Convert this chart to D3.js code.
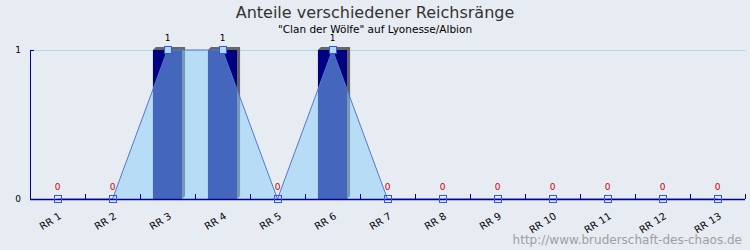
<!DOCTYPE html>
<html>
<head>
<meta charset="utf-8">
<script src="https://cdn.jsdelivr.net/npm/d3@7"></script>
<style>
  body { margin: 0; background: #e6ecf2; }
  svg { display: block; font-family: "DejaVu Sans", sans-serif; }
</style>
</head>
<body>
<div id="chart"></div>
<script>
const categories = ["RR 1", "RR 2", "RR 3", "RR 4", "RR 5", "RR 6", "RR 7", "RR 8", "RR 9", "RR 10", "RR 11", "RR 12", "RR 13"];
const anteile = [0, 0, 1, 1, 0, 1, 0, 0, 0, 0, 0, 0, 0];
const y_ticks = [0, 1];
const title = "Anteile verschiedener Reichsränge";
const subtitle = "\"Clan der Wölfe\" auf Lyonesse/Albion";
const watermark = "http://www.bruderschaft-des-chaos.de";

const width = 750, height = 250;
const margin = { top: 50, right: 5, bottom: 51, left: 30 };

const svg = d3.select("#chart").append("svg")
  .attr("width", width)
  .attr("height", height);

svg.append("rect").attr("width", width).attr("height", height).attr("fill", "#e6ecf2");

const data = categories.map((c, i) => ({ cat: c, value: anteile[i] }));

const x = d3.scaleBand()
  .domain(categories)
  .range([margin.left, width - margin.right]);

const y = d3.scaleLinear()
  .domain([0, 1])
  .range([height - margin.bottom, margin.top]);

const cx = (d) => x(d.cat) + x.bandwidth() / 2;

// grid
svg.append("g")
  .selectAll("line")
  .data(y_ticks.filter((t) => t > 0))
  .join("line")
  .attr("x1", margin.left)
  .attr("x2", width - margin.right)
  .attr("y1", (d) => y(d) + 0.5)
  .attr("y2", (d) => y(d) + 0.5)
  .attr("stroke", "#add8e6");

// bars (3d look)
const bw = x.bandwidth() * 0.53;
const depth = 3;
const bars = svg.append("g")
  .selectAll("g")
  .data(data.filter((d) => d.value > 0))
  .join("g");

bars.append("polygon")
  .attr("points", (d) => {
    const x0 = cx(d) - bw / 2, x1 = cx(d) + bw / 2, yt = y(d.value), yb = y(0);
    return [[x0, yt], [x0 + depth, yt - depth], [x1 + depth, yt - depth], [x1 + depth, yb - depth], [x1, yb], [x1, yt]].join(" ");
  })
  .attr("fill", "#666666");

bars.append("rect")
  .attr("x", (d) => cx(d) - bw / 2)
  .attr("y", (d) => y(d.value))
  .attr("width", bw)
  .attr("height", (d) => y(0) - y(d.value))
  .attr("fill", "#000080");

// area
const area = d3.area()
  .x(cx)
  .y0(y(0))
  .y1((d) => y(d.value));

const line = d3.line()
  .x(cx)
  .y((d) => y(d.value));

svg.append("path")
  .datum(data)
  .attr("d", area)
  .attr("fill", "#87cefa")
  .attr("fill-opacity", 0.5);

svg.append("path")
  .datum(data)
  .attr("d", line)
  .attr("fill", "none")
  .attr("stroke", "#5577cc")
  .attr("stroke-width", 1);

// axes
svg.append("line")
  .attr("x1", margin.left + 0.5).attr("x2", margin.left + 0.5)
  .attr("y1", y(1)).attr("y2", y(0))
  .attr("stroke", "#000099");

svg.append("g")
  .selectAll("line")
  .data(y_ticks)
  .join("line")
  .attr("x1", margin.left).attr("x2", margin.left + 4)
  .attr("y1", (d) => y(d) + 0.5).attr("y2", (d) => y(d) + 0.5)
  .attr("stroke", "#000099");

svg.append("line")
  .attr("x1", margin.left).attr("x2", width - margin.right)
  .attr("y1", y(0) + 0.5).attr("y2", y(0) + 0.5)
  .attr("stroke", "#000099")
  .attr("stroke-width", 1.5);

svg.append("g")
  .selectAll("line")
  .data(categories)
  .join("line")
  .attr("x1", (d) => Math.round(x(d) + x.bandwidth()) + 0.5)
  .attr("x2", (d) => Math.round(x(d) + x.bandwidth()) + 0.5)
  .attr("y1", y(0) - 5).attr("y2", y(0))
  .attr("stroke", "#000099");

svg.append("g")
  .selectAll("text")
  .data(y_ticks)
  .join("text")
  .attr("x", margin.left - 9)
  .attr("y", (d) => y(d))
  .attr("dy", "0.35em")
  .attr("text-anchor", "end")
  .attr("font-size", 9)
  .attr("fill", "#000")
  .text((d) => d);

svg.append("g")
  .selectAll("text")
  .data(categories)
  .join("text")
  .attr("transform", (d) => `translate(${ x(d) + x.bandwidth() / 2 + 1 },${ y(0) + 13 }) rotate(-32)`)
  .attr("text-anchor", "end")
  .attr("dy", "0.7em")
  .attr("font-size", 10)
  .attr("fill", "#000")
  .text((d) => d);

// markers
svg.append("g")
  .selectAll("rect")
  .data(data)
  .join("rect")
  .attr("x", (d) => Math.round(cx(d)) - 3.5)
  .attr("y", (d) => Math.round(y(d.value)) - 3.5)
  .attr("width", 7)
  .attr("height", 7)
  .attr("fill", (d) => d.value > 0 ? "#b0d8f0" : "none")
  .attr("stroke", "#3355ee");

// value labels
svg.append("g")
  .selectAll("text")
  .data(data)
  .join("text")
  .attr("x", cx)
  .attr("y", (d) => y(d.value) - 9)
  .attr("text-anchor", "middle")
  .attr("font-size", 9)
  .attr("fill", (d) => d.value > 0 ? "#000" : "#cc0000")
  .text((d) => d.value);

// titles
svg.append("text")
  .attr("x", width / 2)
  .attr("y", 18)
  .attr("text-anchor", "middle")
  .attr("font-size", 16)
  .attr("fill", "#333")
  .text(title);

svg.append("text")
  .attr("x", width / 2)
  .attr("y", 33)
  .attr("text-anchor", "middle")
  .attr("font-size", 10.5)
  .attr("fill", "#000")
  .text(subtitle);

svg.append("text")
  .attr("x", 742)
  .attr("y", 244)
  .attr("text-anchor", "end")
  .attr("font-size", 12)
  .attr("fill", "#a0a0a0")
  .text(watermark);
</script>
</body>
</html>
